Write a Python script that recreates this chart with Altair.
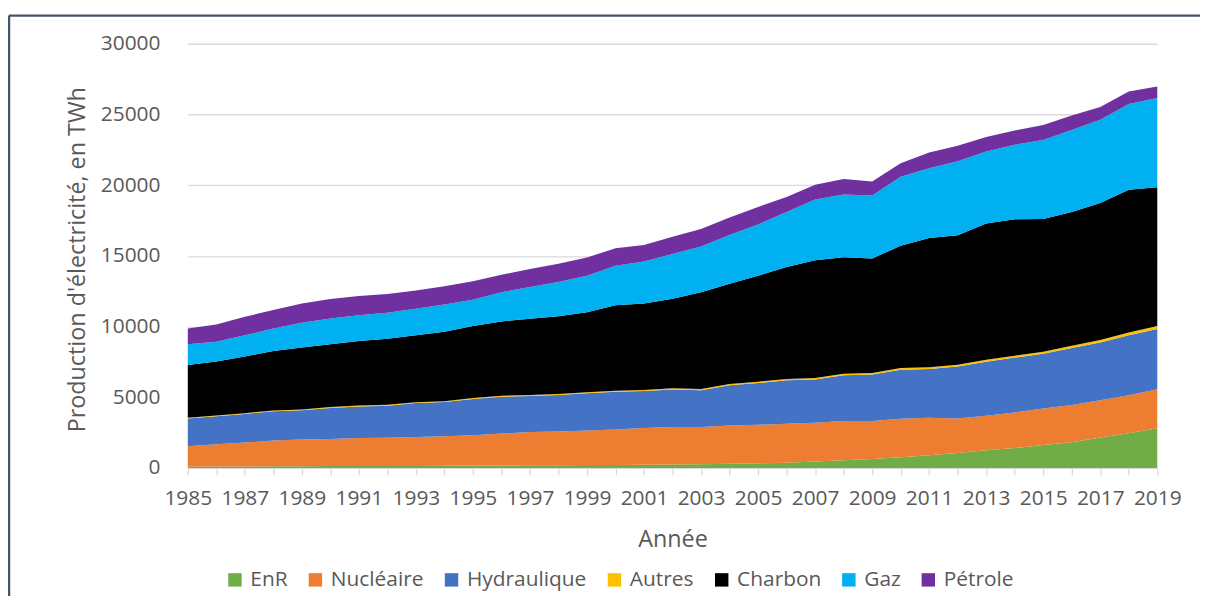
import altair as alt
import pandas as pd

annees = list(range(1985, 2020))

enr = [80, 90, 100, 110, 120, 130, 130, 140, 140, 150, 160, 170, 180, 190, 200,
       210, 220, 240, 260, 290, 320, 360, 450, 540, 630, 750, 890, 1050, 1240,
       1400, 1610, 1820, 2150, 2450, 2800]
nucleaire = [1450, 1580, 1690, 1820, 1880, 1920, 1990, 2000, 2050, 2080, 2140,
             2260, 2360, 2390, 2450, 2510, 2600, 2650, 2630, 2710, 2730, 2760,
             2740, 2780, 2690, 2730, 2660, 2450, 2450, 2520, 2590, 2620, 2640,
             2690, 2760]
hydraulique = [1970, 1990, 2030, 2080, 2080, 2190, 2230, 2260, 2400, 2430, 2580,
               2610, 2550, 2580, 2630, 2660, 2610, 2660, 2610, 2850, 2950, 3070,
               3070, 3240, 3290, 3460, 3450, 3670, 3810, 3880, 3880, 4040, 4070,
               4240, 4270]
autres = [50, 50, 50, 50, 50, 60, 60, 60, 60, 60, 70, 70, 70, 70, 70, 80, 80, 80,
          80, 80, 100, 100, 100, 100, 100, 120, 120, 120, 140, 140, 140, 160, 180,
          200, 210]
charbon = [3720, 3820, 4010, 4210, 4380, 4440, 4570, 4680, 4730, 4910, 5080, 5250,
           5390, 5500, 5660, 6040, 6110, 6340, 6840, 7100, 7490, 7910, 8320, 8240,
           8100, 8660, 9140, 9160, 9650, 9650, 9390, 9460, 9690, 10090, 9810]
gaz = [1470, 1400, 1500, 1580, 1760, 1830, 1820, 1830, 1870, 1920, 1870, 2060,
       2240, 2420, 2580, 2790, 2970, 3160, 3230, 3440, 3630, 3900, 4300, 4440,
       4460, 4880, 4930, 5230, 5090, 5260, 5590, 5800, 5890, 6070, 6310]
petrole = [1110, 1220, 1310, 1310, 1350, 1380, 1350, 1330, 1300, 1300, 1300, 1240,
           1270, 1280, 1290, 1240, 1180, 1220, 1240, 1240, 1240, 1060, 1050, 1100,
           980, 940, 1110, 1100, 1020, 1020, 1050, 1030, 910, 890, 820]

sources = ["EnR", "Nucléaire", "Hydraulique", "Autres", "Charbon", "Gaz", "Pétrole"]
couleurs = ["#70AD47", "#ED7D31", "#4472C4", "#FFC000", "#000000", "#00B0F0", "#7030A0"]
valeurs = [enr, nucleaire, hydraulique, autres, charbon, gaz, petrole]

rows = []
for i, (nom, vals) in enumerate(zip(sources, valeurs)):
    for a, v in zip(annees, vals):
        rows.append({"Année": a, "Source": nom, "Valeur": v, "ordre": i})
df = pd.DataFrame(rows)

FONT = "Open Sans"
GRIS = "#595959"
W, H = 976, 427

aires = alt.Chart(df).mark_area(strokeWidth=0).encode(
    x=alt.X("Année:Q",
            scale=alt.Scale(domain=[1985, 2019], nice=False, zero=False),
            axis=alt.Axis(values=annees, format="d",
                          labelExpr="datum.value % 2 == 1 ? datum.label : ''",
                          grid=False, tickSize=7, tickColor="#D9D9D9", tickWidth=1.3,
                          domainColor="#D9D9D9", domainWidth=1.3,
                          labelPadding=13, labelOverlap=False, labelFlush=False,
                          labelBound=False,
                          title="Année", titleX=W / 2, titleY=79,
                          titleBaseline="alphabetic", titleAlign="center")),
    y=alt.Y("Valeur:Q", stack="zero",
            scale=alt.Scale(domain=[0, 30000], nice=False),
            axis=alt.Axis(values=[0, 5000, 10000, 15000, 20000, 25000, 30000],
                          format="d", ticks=False, domain=False,
                          gridColor="#D9D9D9", gridWidth=1.3, labelPadding=28,
                          title="Production d'électricité, en TWh",
                          titleX=-104, titleY=217, titleAngle=-90,
                          titleBaseline="alphabetic", titleAlign="center")),
    color=alt.Color("Source:N",
                    scale=alt.Scale(domain=sources, range=couleurs),
                    legend=alt.Legend(orient="none", direction="horizontal",
                                      legendX=37, legendY=529, title=None,
                                      symbolType="square", symbolSize=182,
                                      symbolStrokeWidth=0, symbolOpacity=1,
                                      labelFont=FONT, labelFontSize=21,
                                      labelColor=GRIS, labelOffset=5,
                                      columnPadding=17)),
    order=alt.Order("ordre:Q", sort="ascending"),
)

bord_df = pd.DataFrame({"k": [0]})
bord = alt.Chart(bord_df).mark_rule(color="#44546A", strokeWidth=2.5, clip=False)
bord_gauche = bord.encode(x=alt.value(-180), y=alt.value(-28.3), y2=alt.value(560))
bord_haut = bord.encode(x=alt.value(-180), x2=alt.value(1020), y=alt.value(-28.3))

chart = alt.layer(aires, bord_gauche, bord_haut).properties(
    width=W, height=H,
    autosize=alt.AutoSizeParams(type="none"),
    padding={"left": 181, "top": 34, "right": 43, "bottom": 127},
).configure_view(stroke=None).configure_axis(
    labelFont=FONT, labelFontSize=21, labelColor=GRIS,
    titleFont=FONT, titleFontSize=23.5, titleColor=GRIS, titleFontWeight="normal",
)

chart.save("out.html", embed_options={"renderer": "svg", "actions": False})
